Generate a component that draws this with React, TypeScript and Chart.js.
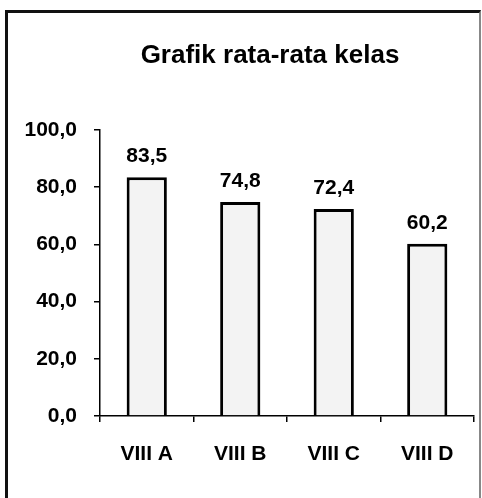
import React, { useEffect, useRef } from "react";
import { Chart, registerables } from "chart.js";

Chart.register(...registerables);

const chartTitle = "Grafik rata-rata kelas";
const categories = ["VIII A", "VIII B", "VIII C", "VIII D"];
const averages = [83.5, 74.8, 72.4, 60.2];
const yMin = 0;
const yMax = 100;
const yStep = 20;

const FONT = "'Liberation Sans', Arial, Helvetica, sans-serif";
const fmt = (v: number) => Number(v).toFixed(1).replace(".", ",");

const valueLabels = {
  id: "valueLabels",
  afterDatasetsDraw(chart: any) {
    const ctx = chart.ctx;
    const meta = chart.getDatasetMeta(0);
    ctx.save();
    ctx.font = `bold 21px ${FONT}`;
    ctx.fillStyle = "#000";
    ctx.textAlign = "center";
    ctx.textBaseline = "alphabetic";
    meta.data.forEach((bar: any, i: number) => {
      ctx.fillText(fmt(averages[i]), bar.x, bar.y - 15);
    });
    ctx.restore();
  },
};

const titlePlugin = {
  id: "offsetTitle",
  afterDraw(chart: any) {
    const ctx = chart.ctx;
    const area = chart.chartArea;
    ctx.save();
    ctx.font = `bold 26px ${FONT}`;
    ctx.fillStyle = "#000";
    ctx.textAlign = "center";
    ctx.textBaseline = "middle";
    ctx.fillText(chartTitle, (area.left + area.right) / 2 - 17, area.top - 74);
    ctx.restore();
  },
};

export default function App() {
  const ref = useRef<HTMLCanvasElement | null>(null);

  useEffect(() => {
    if (!ref.current) return;
    Chart.defaults.font.family = FONT;
    const chart = new Chart(ref.current, {
      type: "bar",
      data: {
        labels: categories,
        datasets: [
          {
            data: averages,
            backgroundColor: "#f3f3f3",
            borderColor: "#000",
            borderWidth: 3,
            borderSkipped: "start",
            categoryPercentage: 1,
            barPercentage: 0.43,
          },
        ],
      },
      options: {
        responsive: false,
        animation: false,
        devicePixelRatio: 1,
        layout: { padding: { left: 10, right: 8, top: 130, bottom: 22 } },
        plugins: {
          legend: { display: false },
          tooltip: { enabled: false },
          title: { display: false },
        },
        scales: {
          x: {
            grid: {
              offset: true,
              drawOnChartArea: false,
              drawTicks: true,
              tickLength: 6,
              color: "#000",
              lineWidth: 1.5,
            },
            border: { display: true, color: "#000", width: 1.5 },
            ticks: {
              color: "#000",
              padding: 20,
              font: { size: 21, weight: "bold", family: FONT },
            },
            afterFit: (scale: any) => {
              scale.height = 60;
            },
          },
          y: {
            min: yMin,
            max: yMax,
            grid: {
              drawOnChartArea: false,
              drawTicks: true,
              tickLength: 6,
              color: "#000",
              lineWidth: 1.5,
            },
            border: { display: true, color: "#000", width: 1.5 },
            ticks: {
              stepSize: yStep,
              color: "#000",
              padding: 17,
              font: { size: 21, weight: "bold", family: FONT },
              callback: (v: any) => fmt(Number(v)),
            },
            afterFit: (scale: any) => {
              scale.width = 90;
            },
          },
        },
      },
      plugins: [valueLabels, titlePlugin],
    });
    return () => chart.destroy();
  }, []);

  return (
    <div>
      <div
        style={{
          position: "fixed",
          left: 5,
          top: 10,
          width: 471,
          height: 520,
          borderLeft: "3px solid #111",
          borderTop: "3px solid #111",
          borderRight: "2px solid #888",
          boxSizing: "content-box",
        }}
      />
      <canvas
        ref={ref}
        width={482}
        height={498}
        style={{ position: "fixed", left: 0, top: 0 }}
      />
    </div>
  );
}
